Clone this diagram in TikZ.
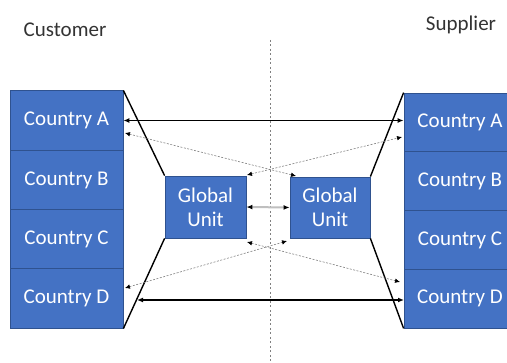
\documentclass[tikz,border=0pt]{standalone}
\usepackage{fontspec}
\setmainfont{Carlito}
\usetikzlibrary{positioning,arrows.meta}
\definecolor{boxblue}{HTML}{4472C4}
\definecolor{boxedge}{HTML}{2F528F}
\definecolor{midgray}{HTML}{BFBFBF}

\begin{document}
\begin{tikzpicture}[x=1pt,y=-1pt,
  country/.style={fill=boxblue,draw=boxedge,line width=0.8pt,text=white,
    minimum width=113pt,minimum height=59.25pt,inner sep=0pt,font=\fontsize{21}{24}\selectfont},
  unit/.style={fill=boxblue,draw=boxedge,line width=0.8pt,text=white,align=center,
    minimum width=81pt,minimum height=62pt,inner sep=0pt,font=\fontsize{21}{24}\selectfont},
  edge/.style={line width=1.4pt,black},
  flow/.style={line width=1.4pt,black,{Latex[length=6pt,width=5pt]}-{Latex[length=6pt,width=5pt]}},
  cross/.style={line width=0.6pt,gray,dash pattern=on 2pt off 1.5pt,{Latex[length=5pt,width=4.5pt,black]}-{Latex[length=5pt,width=4.5pt,black]}}]
\useasboundingbox (0,0) rectangle (507,363);
\clip (0,0) rectangle (507,363);
% Separator line
\draw[gray,line width=0.6pt,dash pattern=on 2pt off 2.5pt] (270,40) -- (270,363);
% Titles
\node[font=\fontsize{21}{24}\selectfont,text=black!80] (cust) at (65,30) {Customer};
\node[font=\fontsize{21}{24}\selectfont,text=black!80] (supp) at (461,25) {Supplier};
% Customer countries
\node[country] (cA) at (66.5,120.5) {Country A};
\node[country] (cB) at (66.5,180) {Country B};
\node[country] (cC) at (66.5,239) {Country C};
\node[country] (cD) at (66.5,298.5) {Country D};
% Supplier countries
\node[country,minimum width=112pt,minimum height=58.75pt] (sA) at (460,122.4) {Country A};
\node[country,minimum width=112pt,minimum height=58.75pt] (sB) at (460,181.1) {Country B};
\node[country,minimum width=112pt,minimum height=58.75pt] (sC) at (460,239.9) {Country C};
\node[country,minimum width=112pt,minimum height=58.75pt] (sD) at (460,298.6) {Country D};
% Global units
\node[unit] (gL) at (205.5,207) {Global\\Unit};
\node[unit,minimum width=80pt,minimum height=61pt] (gR) at (330,207.5) {Global\\Unit};
% Funnel edges
\draw[edge] (cA.north east) -- (gL.north west);
\draw[edge] (cD.south east) -- (gL.south west);
\draw[edge] (gR.north east) -- (sA.north west);
\draw[edge] (gR.south east) -- (sD.south west);
% Direct flows
\coordinate (dL) at (137,300);
\coordinate (dR) at (404,300);
\draw[flow] (cA.east) -- (sA.west |- cA.east);
\draw[flow] (dL) -- (dR);
% Crossing flows
\coordinate (aL) at (125,133);
\coordinate (aR) at (402,137);
\coordinate (dL2) at (125,288);
\coordinate (dR2) at (400,282);
\coordinate (gLt) at (247,175);
\coordinate (gLb) at (247,242);
\coordinate (gRt) at (296,176);
\coordinate (gRb) at (287,241);
\draw[cross] (aL) -- (gRt);
\draw[cross] (gLt) -- (aR);
\draw[cross] (gLb) -- (dR2);
\draw[cross] (dL2) -- (gRb);
% Between units
\draw[midgray,line width=2pt,{Latex[length=6pt,width=5pt,black]}-{Latex[length=6pt,width=5pt,black]}] (gL.east) -- (gR.west);
\end{tikzpicture}
\end{document}
